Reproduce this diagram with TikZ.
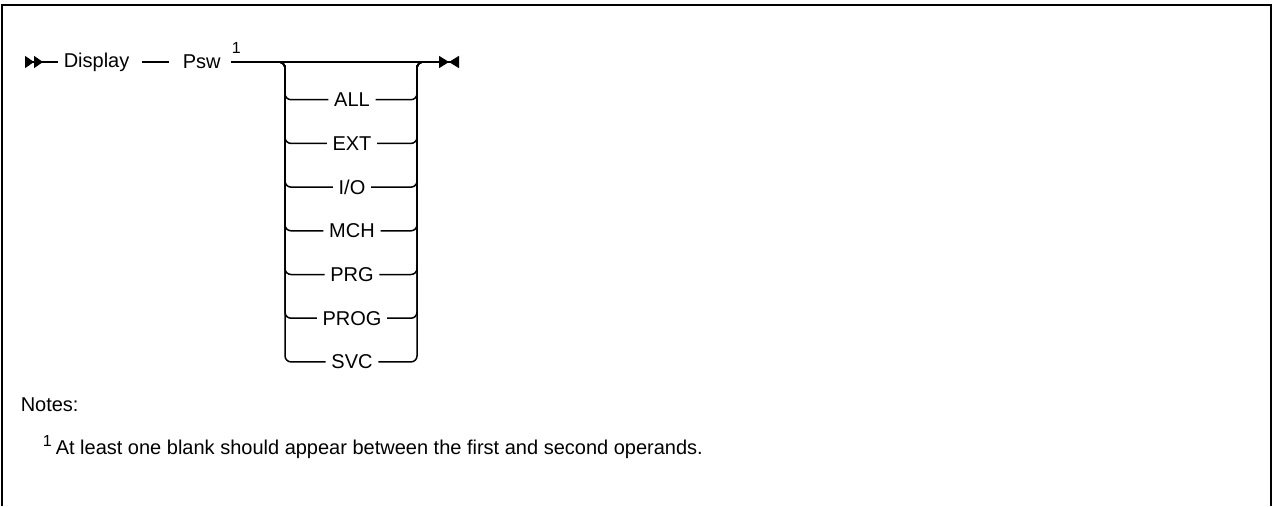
\documentclass[tikz,border=0pt]{standalone}
\usepackage{fontspec}
\setmainfont{Liberation Sans}
\usetikzlibrary{arrows.meta,positioning,calc}

\tikzset{
  opt/.style={inner sep=5pt, anchor=center},
  rail/.style={line width=1.5pt, rounded corners=6pt},
  fnref/.style={font=\fontsize{16}{18}\selectfont, inner sep=0pt}
}

\begin{document}
\begin{tikzpicture}[x=1pt, y=-1pt, line width=1.5pt, font=\fontsize{20}{23}\selectfont]
  \useasboundingbox (0,0) rectangle (1274,506);
  % frame, open at the bottom
  \draw[line width=2pt] (2,506) -- (2,5) -- (1271,5) -- (1271,506);

  % main line
  \coordinate (start) at (25,62);
  \node[inner sep=0pt, anchor=west] (disp) at (63,62) {Display};
  \node[inner sep=0pt, anchor=west] (psw) at (182,62) {Psw};
  \node[fnref, anchor=south west] (ref) at (231,54) {1};
  \coordinate (jl) at (285,62);
  \coordinate (jr) at (417,62);
  \coordinate (stop) at (459,62);
  \draw[{Triangle[reversed,length=9pt,width=12pt]Triangle[reversed,length=9pt,width=12pt]}-] (start) -- ($(disp.west)+(-5,0)$);
  \draw ($(disp.east)+(12,0)$) -- ($(psw.west)+(-13,0)$);
  \draw[-{Triangle[length=10pt,width=12pt]Triangle[reversed,length=10pt,width=12pt]}] ($(psw.east)+(10,0)$) -- (stop);

  % the choices
  \foreach \lab [count=\i] in {ALL,EXT,I/O,MCH,PRG,PROG,SVC} {
    \node[opt] (o\i) at (352,{56+43.7*\i}) {\lab};
    \draw[rail] ($(jl)+(-10,0)$) -- (jl) |- (o\i.west);
    \draw[rail] (o\i.east) -| (jr) -- ++(10,0);
  }

  % notes
  \node[anchor=west, inner sep=0pt] (notes) at (20,405) {Notes:};
  \node[fnref, anchor=south west] (nref) at (42,447) {1};
  \node[anchor=west, inner sep=0pt] (note1) at (55,449) {At least one blank should appear between the first and second operands.};
\end{tikzpicture}
\end{document}
